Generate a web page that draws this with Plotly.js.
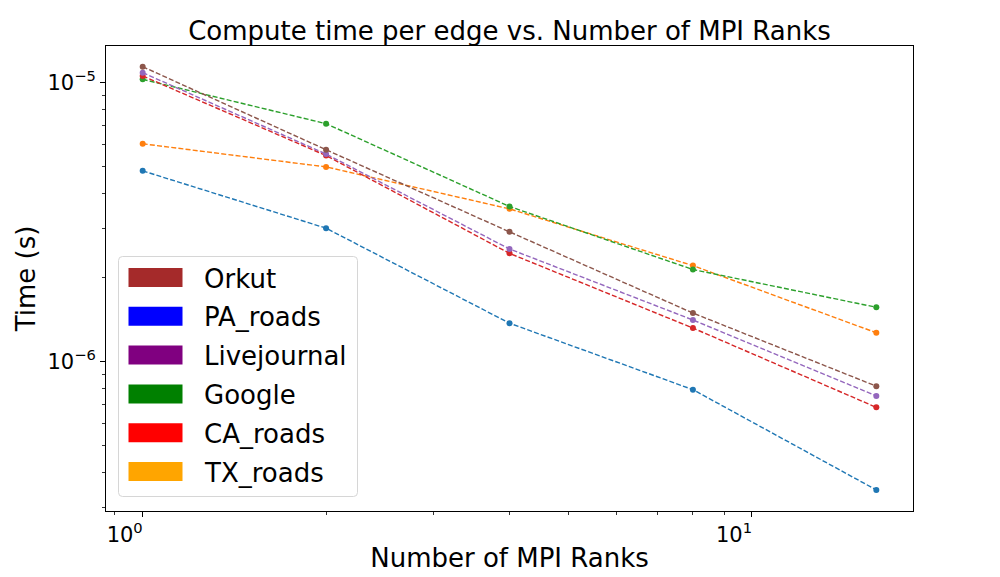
<!DOCTYPE html>
<html>
<head>
<meta charset="utf-8">
<script src="https://cdn.plot.ly/plotly-3.0.1.min.js"></script>
<style>html,body{margin:0;padding:0;background:#fff;}#chart{width:1000px;height:577px;}</style>
</head>
<body>
<div id="chart"></div>
<script>
// ---- data ----
const ranks = [1, 2, 4, 8, 16];
const paRoads     = [4.83e-6, 3.01e-6, 1.374e-6, 7.94e-7, 3.47e-7];
const txRoads     = [6.04e-6, 4.99e-6, 3.53e-6, 2.21e-6, 1.27e-6];
const google      = [1.028e-5, 7.13e-6, 3.60e-6, 2.14e-6, 1.567e-6];
const caRoads     = [1.057e-5, 5.48e-6, 2.445e-6, 1.32e-6, 6.86e-7];
const livejournal = [1.086e-5, 5.55e-6, 2.535e-6, 1.411e-6, 7.54e-7];
const orkut       = [1.141e-5, 5.75e-6, 2.92e-6, 1.494e-6, 8.17e-7];

const lineSeries = [paRoads, txRoads, google, caRoads, livejournal, orkut];
const lineNames  = ['PA_roads', 'TX_roads', 'Google', 'CA_roads', 'Livejournal', 'Orkut'];
const lineColors = ['#1f77b4', '#ff7f0e', '#2ca02c', '#d62728', '#9467bd', '#8c564b'];

const legendLabels = ['Orkut', 'PA_roads', 'Livejournal', 'Google', 'CA_roads', 'TX_roads'];
const legendColors = ['#a52a2a', '#0000ff', '#800080', '#008000', '#ff0000', '#ffa500'];

const xTickVals = [1, 10];
const xTickText = ['10<sup>0</sup>', '10<sup>1</sup>'];
const yTickVals = [1e-6, 1e-5];
const yTickText = ['10<sup>\u22126</sup>', '10<sup>\u22125</sup>'];
const xMinorVals = [0.9, 2, 3, 4, 5, 6, 7, 8, 9];
const yMinorVals = [3e-7, 4e-7, 5e-7, 6e-7, 7e-7, 8e-7, 9e-7, 2e-6, 3e-6, 4e-6, 5e-6, 6e-6, 7e-6, 8e-6, 9e-6];

// ---- layout geometry (pixels) ----
const W = 1000, H = 577;
const L = 106, R = 913, T = 46, B = 511;
const px = v => (v - L) / (R - L);
const py = v => (B - v) / (B - T);

const FONT = 'DejaVu Sans, Liberation Sans, sans-serif';

const traces = lineSeries.map((ys, i) => ({
  x: ranks, y: ys, name: lineNames[i], type: 'scatter', mode: 'lines+markers',
  line: {color: lineColors[i], width: 1.4, dash: '5px,2.2px'},
  marker: {color: lineColors[i], size: 6},
  showlegend: false, hoverinfo: 'x+y+name'
}));

// manual matplotlib-style legend
const shapes = [];
const annotations = [];
const bx0 = 118.5, bx1 = 357.5, by0 = 256.5, by1 = 496.5, rr = 4;
const rx = rr / (R - L), ry = rr / (B - T);
const X0 = px(bx0), X1 = px(bx1), Y0 = py(by1), Y1 = py(by0);
shapes.push({
  type: 'path', xref: 'paper', yref: 'paper', layer: 'above',
  path: `M${X0 + rx},${Y0} L${X1 - rx},${Y0} Q${X1},${Y0} ${X1},${Y0 + ry} L${X1},${Y1 - ry} Q${X1},${Y1} ${X1 - rx},${Y1} L${X0 + rx},${Y1} Q${X0},${Y1} ${X0},${Y1 - ry} L${X0},${Y0 + ry} Q${X0},${Y0} ${X0 + rx},${Y0} Z`,
  fillcolor: 'rgba(255,255,255,0.8)', line: {color: '#d6d6d6', width: 1}
});
const rowStart = 277.5, rowStep = 38.8;
legendLabels.forEach((lab, i) => {
  const cy = rowStart + i * rowStep;
  shapes.push({
    type: 'rect', xref: 'paper', yref: 'paper', layer: 'above',
    x0: px(128.5), x1: px(182.5), y0: py(cy + 9.5), y1: py(cy - 9.5),
    fillcolor: legendColors[i], line: {width: 0}
  });
  annotations.push({
    xref: 'paper', yref: 'paper', x: px(202), y: py(cy + 1), xanchor: 'left', yanchor: 'middle',
    text: lab, showarrow: false, font: {family: FONT, size: 26, color: '#000'}
  });
});

const layout = {
  width: W, height: H,
  margin: {l: L, r: W - R, t: T, b: H - B, pad: 0},
  paper_bgcolor: '#fff', plot_bgcolor: '#fff',
  font: {family: FONT, color: '#000'},
  title: {text: 'Compute time per edge vs. Number of MPI Ranks', font: {family: FONT, size: 26, color: '#000'},
          x: (L + R) / 2 / W, xanchor: 'center', y: 1 - 31 / H, yanchor: 'middle'},
  xaxis: {
    type: 'log', range: [-0.0602, 1.2643], showgrid: false, zeroline: false,
    showline: true, mirror: true, linecolor: '#000', linewidth: 1,
    tickmode: 'array', tickvals: xTickVals, ticktext: xTickText,
    ticks: 'outside', ticklen: 5, tickwidth: 1, tickcolor: '#000',
    ticklabelshift: -18,
    tickfont: {family: FONT, size: 21, color: '#000'},
    minor: {tickmode: 'array', tickvals: xMinorVals, ticks: 'outside', ticklen: 3, tickwidth: 0.8, tickcolor: '#000', showgrid: false},
    title: {text: 'Number of MPI Ranks', font: {family: FONT, size: 26, color: '#000'}, standoff: 2},
    automargin: false
  },
  yaxis: {
    type: 'log', range: [-6.5351, -4.8685], showgrid: false, zeroline: false,
    showline: true, mirror: true, linecolor: '#000', linewidth: 1,
    tickmode: 'array', tickvals: yTickVals, ticktext: yTickText,
    ticks: 'outside', ticklen: 5, tickwidth: 1, tickcolor: '#000',
    tickfont: {family: FONT, size: 21, color: '#000'},
    minor: {tickmode: 'array', tickvals: yMinorVals, ticks: 'outside', ticklen: 3, tickwidth: 0.8, tickcolor: '#000', showgrid: false},
    title: {text: 'Time (s)', font: {family: FONT, size: 26, color: '#000'}, standoff: 4},
    automargin: false
  },
  shapes: shapes,
  annotations: annotations,
  showlegend: false
};

Plotly.newPlot('chart', traces, layout, {displayModeBar: false, staticPlot: true});
</script>
</body>
</html>
